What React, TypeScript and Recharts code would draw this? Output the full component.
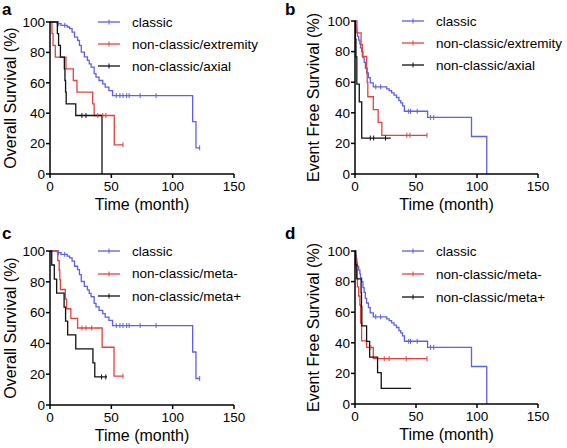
import { LineChart, Line, XAxis, YAxis, Label } from 'recharts';

// [time (month), survival %, censored?]
type Pt = [number, number, number?];

const classicOS: Pt[] = [
  [0, 100], [6, 98.9], [7, 98.9, 1], [9, 97.8], [12, 97.8, 1], [14, 96.7], [16, 95.6], [18, 93.4],
  [20, 90.1], [22.5, 87.9], [24, 84.6], [25.5, 80.2], [28, 77], [30.5, 74.8], [32, 72.5],
  [33.5, 70.3], [36, 66], [37.5, 63.7], [40, 61.5], [43, 59.3], [45, 57.1], [48, 54.9],
  [51, 51.6], [54, 51.6, 1], [57, 51.6, 1], [59.5, 51.6, 1], [62.5, 51.6, 1], [64.5, 51.6, 1],
  [73.5, 51.6, 1], [86.5, 51.6, 1], [116.3, 34.4], [119, 17.2], [122, 17.2, 1],
];
const extremityOS: Pt[] = [
  [0, 100], [1.6, 92.3], [2.5, 84.6], [4.3, 76.9], [13, 69.2], [19, 61.5], [22, 53.8],
  [34.8, 46.2], [36, 38.5], [39, 38.5, 1], [43, 38.5, 1], [45.5, 38.5, 1], [52.4, 19.2],
  [59.5, 19.2, 1],
];
const axialOS: Pt[] = [
  [0, 100], [6, 92.3], [7, 84.6], [8.5, 76.9], [11.7, 69.2], [12.2, 61.5], [12.7, 53.8],
  [13.2, 46.2], [21, 38.5], [26, 38.5, 1], [29.3, 38.5, 1], [42.4, 0],
];

const classicEFS: Pt[] = [
  [0, 100], [0.5, 97.5], [1, 95], [1.5, 92.5], [2, 90], [3, 87.5], [4, 85], [4.5, 82.5],
  [5.5, 80], [6.5, 76], [7.5, 73], [8.5, 69], [9.5, 66], [11, 63], [12.5, 59.5], [15, 57],
  [17, 57, 1], [21, 57, 1], [26, 55.7], [28, 54.5], [30, 53], [32, 51.5], [34, 50], [36, 48],
  [37.5, 46.5], [39, 44.5], [40.5, 41], [44, 41, 1], [45.5, 41, 1], [51, 41, 1], [59.5, 37],
  [62, 37, 1], [64.5, 37, 1], [95.5, 24.5], [108, 0],
];
const extremityEFS: Pt[] = [
  [0, 100], [1.6, 92.3], [5, 84.6], [6, 76.9], [9.5, 69.2], [10, 59.9], [10.5, 50.5],
  [15, 42.1], [19, 33.7], [22, 25.3], [42.5, 25.3, 1], [45, 25.3, 1], [59, 25.3, 1],
];
const axialEFS: Pt[] = [
  [0, 100], [0.3, 88.2], [0.8, 76.5], [1.5, 58.8], [3.5, 47.1], [5.5, 23.5], [12.5, 23.5, 1],
  [15.3, 23.5, 1], [25, 23.5, 1], [29.3, 23.5],
];

const metaNegOS: Pt[] = [
  [0, 100], [6.3, 93.8], [7.5, 87.5], [8, 81.3], [8.5, 75], [12.5, 68.8], [13.5, 62.5],
  [17, 56.3], [22.5, 50], [26, 50, 1], [29.3, 50, 1], [34, 50, 1], [42.5, 37.5], [52.2, 18.8],
  [59.5, 18.8, 1],
];
const metaPosOS: Pt[] = [
  [0, 100], [1.4, 90.9], [3.5, 81.8], [5.4, 72.7], [11.5, 63.6], [12.7, 54.5], [14.4, 45.5],
  [21, 36.4], [35, 27.3], [36.5, 18.2], [42, 18.2, 1], [45.5, 18.2, 1], [46.5, 18.2],
];

const metaNegEFS: Pt[] = [
  [0, 100], [0.5, 94.1], [1, 88.2], [1.5, 82.4], [2, 76.5], [3, 70.6], [4, 64.7], [4.6, 52.9],
  [5.4, 41.2], [9.5, 37], [13, 37, 1], [15, 29.6], [24, 29.6, 1], [28, 29.6, 1], [42, 29.6, 1],
  [59, 29.6, 1],
];
const metaPosEFS: Pt[] = [
  [0, 100], [0.5, 90.9], [1.5, 81.8], [5, 72.7], [5.3, 63.6], [5.6, 51.1], [9.5, 40.9],
  [12, 30.7], [18.5, 20.5], [21.5, 10.2], [46, 10.2],
];

const xTicks = [0, 50, 100, 150];
const yTicks = [0, 20, 40, 60, 80, 100];

const BLUE = '#5f5fea';
const RED = '#e5403c';
const BLACK = '#111';
const FONT = '"Liberation Sans", Arial, Helvetica, sans-serif';

const toRows = (pts: Pt[]) => pts.map(([t, s, c]) => ({ t, s, c: c ? 1 : 0 }));

const CensorDot = (props: any) => {
  const { cx, cy, payload, stroke, index } = props;
  if (!payload || !payload.c) return <g key={index} />;
  return <line key={index} x1={cx} x2={cx} y1={cy - 2.5} y2={cy + 2.5} stroke={stroke} strokeWidth={1} />;
};

const panels = [
  {
    letter: 'a', left: 0, top: 0, w: 283, yW: 50, mt: 22, mr: 49, xH: 50,
    yTitle: 'Overall Survival (%)', yOff: 10, legendX: 98, legendY: [22, 44, 66],
    series: [classicOS, extremityOS, axialOS],
    names: ['classic', 'non-classic/extremity', 'non-classic/axial'],
  },
  {
    letter: 'b', left: 283, top: 0, w: 284, yW: 72, mt: 21, mr: 29, xH: 50,
    yTitle: 'Event Free Survival (%)', yOff: 30, legendX: 119, legendY: [21, 43, 65],
    series: [classicEFS, extremityEFS, axialEFS],
    names: ['classic', 'non-classic/extremity', 'non-classic/axial'],
  },
  {
    letter: 'c', left: 0, top: 224, w: 283, yW: 50, mt: 27, mr: 49, xH: 43,
    yTitle: 'Overall Survival (%)', yOff: 10, legendX: 98, legendY: [27, 49.5, 72],
    series: [classicOS, metaNegOS, metaPosOS],
    names: ['classic', 'non-classic/meta-', 'non-classic/meta+'],
  },
  {
    letter: 'd', left: 283, top: 224, w: 284, yW: 72, mt: 27, mr: 29, xH: 44,
    yTitle: 'Event Free Survival (%)', yOff: 30, legendX: 119, legendY: [27, 50, 73],
    series: [classicEFS, metaNegEFS, metaPosEFS],
    names: ['classic', 'non-classic/meta-', 'non-classic/meta+'],
  },
];

const colors = [BLUE, RED, BLACK];

export default function App() {
  return (
    <div style={{ position: 'absolute', left: 0, top: 0, width: 567, height: 448, background: '#fff', fontFamily: FONT }}>
      {panels.map((p) => (
        <div key={p.letter} style={{ position: 'absolute', left: p.left, top: p.top, width: p.w, height: 224 }}>
          <LineChart width={p.w} height={224} margin={{ top: p.mt, right: p.mr, left: 0, bottom: 0 }}>
            <XAxis
              type="number"
              dataKey="t"
              domain={[0, 150]}
              ticks={xTicks}
              height={p.xH}
              tickSize={4}
              tickMargin={3}
              axisLine={{ stroke: '#000', strokeWidth: 1.5 }}
              tickLine={{ stroke: '#000', strokeWidth: 1.5 }}
              tick={{ fill: '#000', fontSize: 13.5, fontFamily: FONT }}
              allowDataOverflow
            >
              <Label
                value="Time (month)"
                position="insideBottom"
                offset={p.xH - 36}
                style={{ fill: '#000', fontSize: 16, fontFamily: FONT }}
              />
            </XAxis>
            <YAxis
              type="number"
              domain={[0, 100]}
              ticks={yTicks}
              width={p.yW}
              tickSize={4}
              tickMargin={1}
              axisLine={{ stroke: '#000', strokeWidth: 1.5 }}
              tickLine={{ stroke: '#000', strokeWidth: 1.5 }}
              tick={{ fill: '#000', fontSize: 13.5, fontFamily: FONT }}
            >
              <Label
                value={p.yTitle}
                angle={-90}
                position="insideLeft"
                offset={p.yOff}
                style={{ fill: '#000', fontSize: 16, fontFamily: FONT, textAnchor: 'middle' }}
              />
            </YAxis>
            {p.series.map((s, i) => (
              <Line
                key={i}
                data={toRows(s)}
                dataKey="s"
                type="stepAfter"
                stroke={colors[i]}
                strokeWidth={1.3}
                dot={CensorDot}
                activeDot={false}
                isAnimationActive={false}
              />
            ))}
          </LineChart>
          <div
            style={{
              position: 'absolute', left: 2, top: 1, fontSize: 17, lineHeight: '17px',
              fontWeight: 'bold', color: '#000',
            }}
          >
            {p.letter}
          </div>
          {p.names.map((n, i) => (
            <div
              key={n}
              style={{ position: 'absolute', left: p.legendX, top: p.legendY[i] - 9, height: 18, display: 'flex', alignItems: 'center' }}
            >
              <svg width={22} height={8} style={{ display: 'block' }}>
                <line x1={0} x2={22} y1={4} y2={4} stroke={colors[i]} strokeWidth={1.3} />
                <line x1={11} x2={11} y1={1.5} y2={6.5} stroke={colors[i]} strokeWidth={1} />
              </svg>
              <span style={{ marginLeft: 12, fontSize: 13.5, color: '#000', whiteSpace: 'nowrap' }}>{n}</span>
            </div>
          ))}
        </div>
      ))}
    </div>
  );
}
